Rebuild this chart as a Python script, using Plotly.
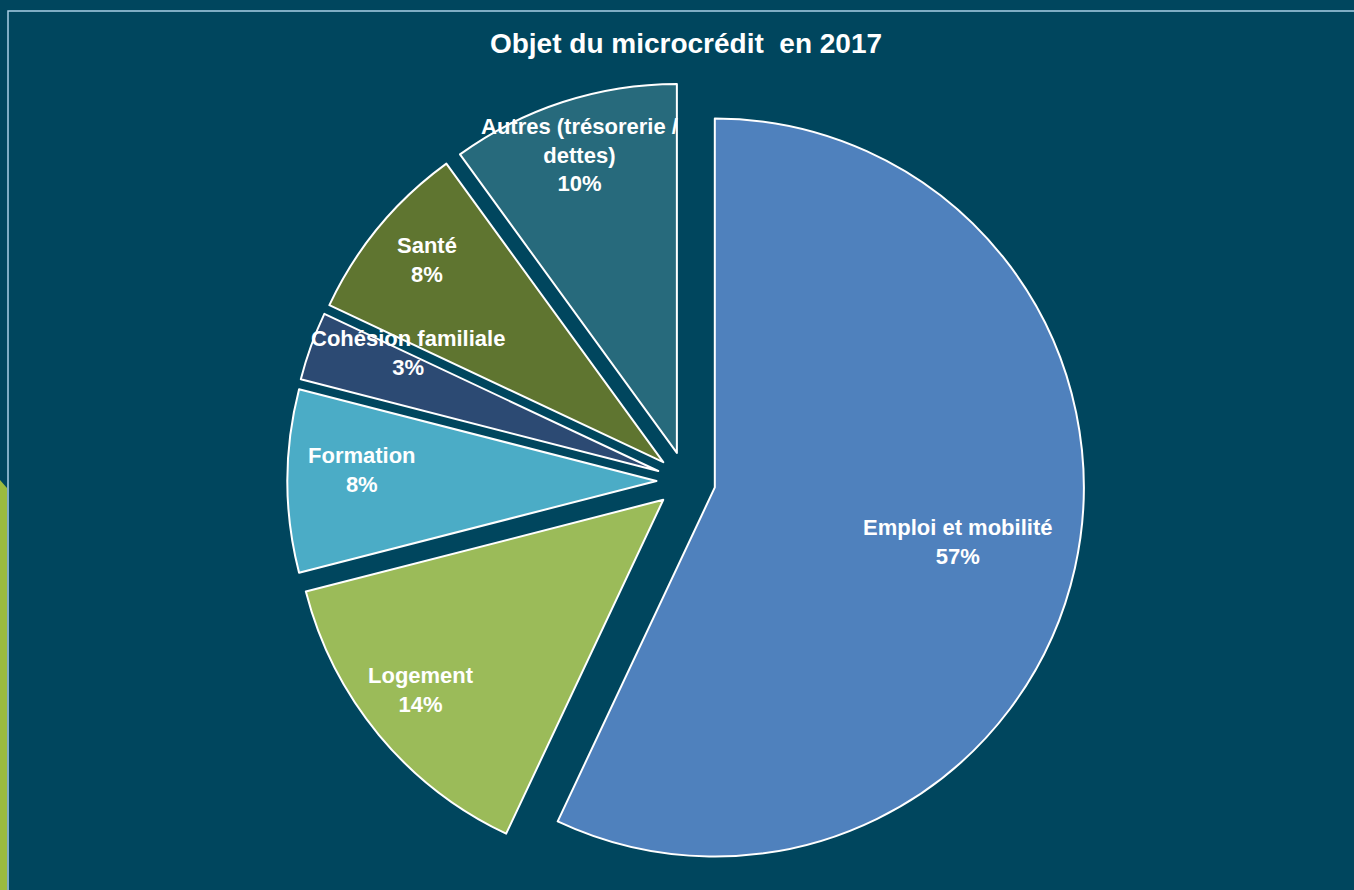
import math
import plotly.graph_objects as go

labels = ["Emploi et mobilité", "Logement", "Formation", "Cohésion familiale", "Santé", "Autres (trésorerie /<br>dettes)"]
values = [57, 14, 8, 3, 8, 10]
colors = ["#4F81BD", "#9BBB59", "#4BACC6", "#2C4A73", "#5F7530", "#276A7C"]

# label placement (style): radial fraction of radius, angular shift in degrees
label_radius = [0.755, 0.915, 0.879, 0.83, 0.923, 0.93]
label_shift = [0.0, 1.3, 2.0, 5.0, 0.9, 0.0]

W, H = 1354, 890
cx, cy, r, pull = 686, 481, 369, 0.08
outer = r * (1 + pull)
FONT = "Liberation Sans, Arial, sans-serif"

fig = go.Figure(go.Pie(
    labels=labels,
    values=values,
    sort=False,
    direction="clockwise",
    rotation=0,
    pull=[pull] * len(values),
    marker=dict(colors=colors, line=dict(color="#FFFFFF", width=2)),
    textinfo="none",
    showlegend=False,
    hoverinfo="label+percent",
    domain=dict(x=[(cx - outer) / W, (cx + outer) / W],
                y=[(H - cy - outer) / H, (H - cy + outer) / H]),
))

total = sum(values)
annotations = []
cum = 0
for lab, v, fr, sh in zip(labels, values, label_radius, label_shift):
    mid = (cum + v / 2) / total * 360 + sh
    cum += v
    a = math.radians(mid)
    px = cx + fr * r * math.sin(a)
    py = cy - fr * r * math.cos(a)
    annotations.append(dict(
        text=f"<b>{lab}<br>{round(v / total * 100)}%</b>",
        x=px / W, y=1 - py / H, xref="paper", yref="paper",
        xanchor="center", yanchor="middle", showarrow=False, align="center",
        font=dict(family=FONT, size=22, color="#FFFFFF"),
    ))

fig.update_layout(
    width=W, height=H,
    margin=dict(l=0, r=0, t=0, b=0),
    paper_bgcolor="#00465E",
    plot_bgcolor="#00465E",
    annotations=annotations,
    title=dict(text="<b>Objet du microcrédit  en 2017</b>", x=686 / W, xanchor="center",
               y=1 - 43 / H, yanchor="middle",
               font=dict(family=FONT, size=28, color="#FFFFFF")),
    shapes=[
        dict(type="rect", xref="paper", yref="paper", x0=8 / W, x1=1.01, y0=-0.01, y1=1 - 11 / H,
             line=dict(color="#A9CFE6", width=1.5), fillcolor="rgba(0,0,0,0)", layer="below"),
        dict(type="path", xref="paper", yref="paper",
             path=f"M 0 {1-480/H} L {7/W} {1-488/H} L {7/W} 0 L 0 0 Z",
             fillcolor="#9BBB3F", line=dict(width=0), layer="below"),
    ],
)

fig.write_html("out.html")
